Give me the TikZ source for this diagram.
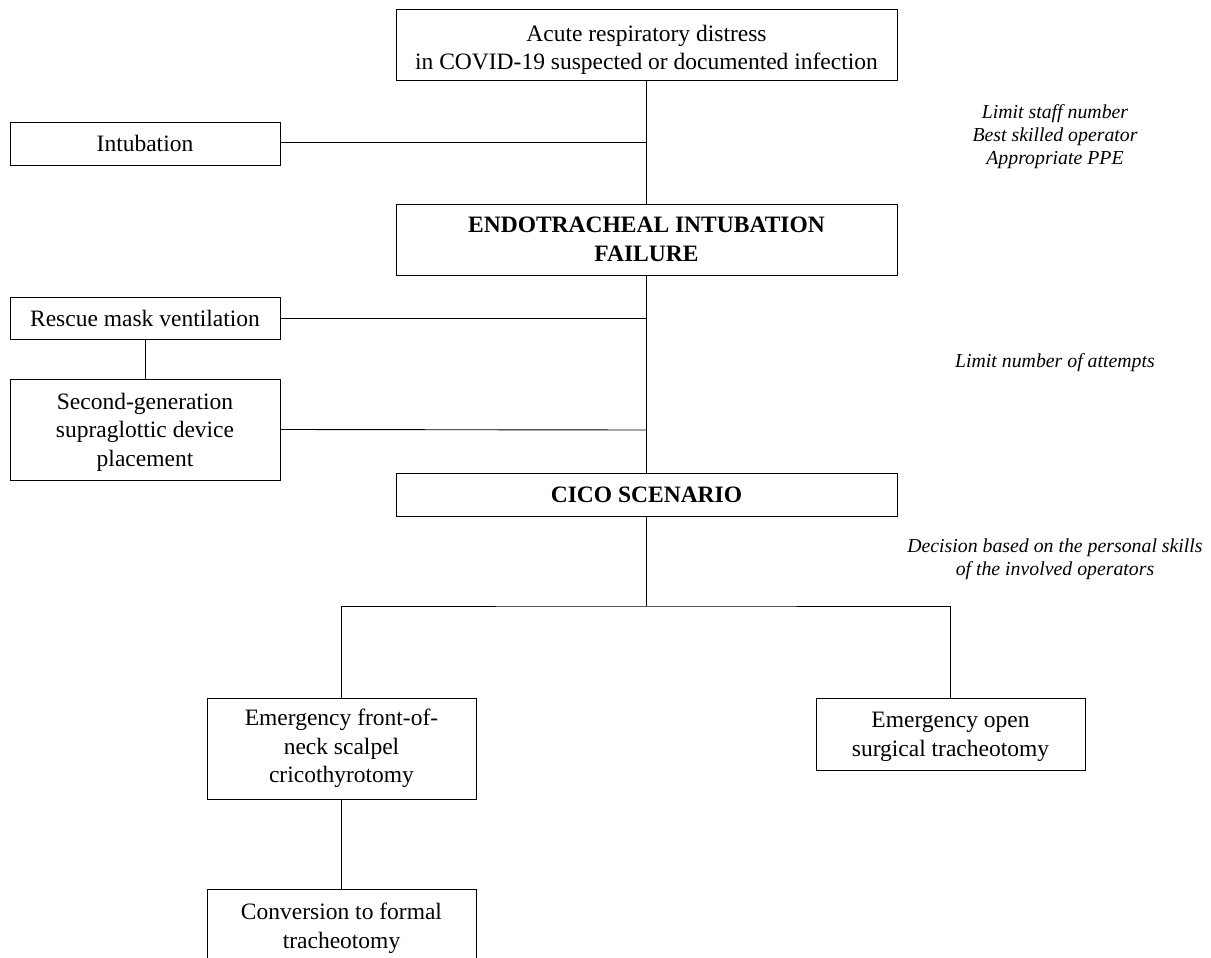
\documentclass[tikz,border=0pt]{standalone}
\usepackage{fontspec}
\setmainfont{Liberation Serif}
\begin{document}
\begin{tikzpicture}[x=1pt,y=-1pt,
  box/.style={draw, line width=1pt, rectangle, inner sep=0pt, align=center, font=\fontsize{23.5}{28.5}\selectfont},
  boxtext/.style={align=center, inner sep=0pt, font=\fontsize{23.5}{28.5}\selectfont},
  note/.style={align=center, inner sep=0pt, font=\fontsize{19.8}{23}\selectfont\itshape},
  conn/.style={line width=0.9pt}]
\useasboundingbox (0,0) rectangle (1211,958);
\clip (0,0) rectangle (1211,958);
\node[box, minimum width=501pt, minimum height=71pt] (top) at (646.5,45.5) {};
\node[boxtext] (toptext) at (646.5,50) {Acute respiratory distress\\in COVID-19 suspected or documented infection};
\node[box, minimum width=270pt, minimum height=43pt] (intub) at (145,143.5) {Intubation};
\node[box, minimum width=501pt, minimum height=71pt, font=\fontsize{23.5}{28.5}\selectfont\bfseries] (eif) at (646.5,239.5) {ENDOTRACHEAL INTUBATION\\FAILURE};
\node[box, minimum width=270pt, minimum height=42pt] (rescue) at (145,318) {Rescue mask ventilation};
\node[box, minimum width=270pt, minimum height=101pt] (sgd) at (145,429.5) {};
\node[boxtext] (sgdtext) at (145,432) {Second-generation\\supraglottic device\\placement};
\node[box, minimum width=501pt, minimum height=43pt, font=\fontsize{23.5}{28.5}\selectfont\bfseries] (cico) at (646.5,494.5) {CICO SCENARIO};
\node[box, minimum width=269pt, minimum height=101pt] (fon) at (341.5,748.5) {Emergency front-of-\\neck scalpel\\cricothyrotomy};
\node[box, minimum width=269pt, minimum height=72pt] (open) at (950.5,734) {};
\node[boxtext] (opentext) at (950.5,737) {Emergency open\\surgical tracheotomy};
\node[box, minimum width=269pt, minimum height=101pt, anchor=north] (conv) at (341.5,889) {};
\node[boxtext] (convtext) at (341.5,928.5) {Conversion to formal\\tracheotomy};
\node[note] (n1) at (1055,136.5) {Limit staff number\\Best skilled operator\\Appropriate PPE};
\node[note] (n2) at (1055,363) {Limit number of attempts};
\node[note] (n3) at (1055,559.5) {Decision based on the personal skills\\of the involved operators};
\coordinate (j1) at (646.5,142);
\coordinate (j2) at (646.5,318);
\coordinate (j3) at (646.5,430);
\coordinate (split) at (646.5,606);
\draw[conn] (top.south) -- (eif.north);
\draw[conn] (eif.south) -- (cico.north);
\draw[conn] (intub.east |- j1) -- (j1);
\draw[conn] (rescue.east) -- (j2);
\draw[conn] (sgd.east) -- (j3);
\draw[conn] (rescue.south) -- (sgd.north);
\draw[conn] (cico.south) -- (split);
\draw[conn] (fon.north) |- (split) -| (open.north);
\draw[conn] (fon.south) -- (conv.north);
\end{tikzpicture}
\end{document}
